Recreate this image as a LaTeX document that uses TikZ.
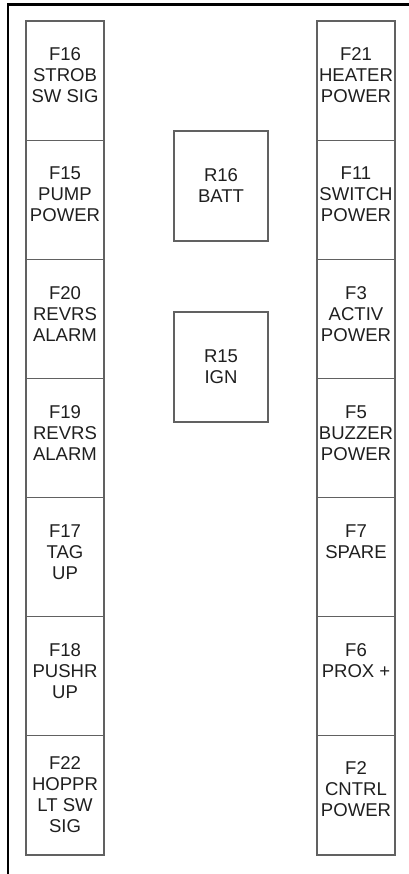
\documentclass[tikz,border=0pt]{standalone}
\usepackage{fontspec}
\setmainfont{Liberation Sans}
\begin{document}
\begin{tikzpicture}[x=0.75pt,y=-0.75pt,
  fuse/.style={draw=black!62, line width=0.8pt, minimum width=58.5pt, minimum height=89.36pt, inner sep=0pt},
  relay/.style={draw=black!62, line width=1.3pt, minimum width=70.5pt, minimum height=82.5pt, inner sep=0pt},
  lbl/.style={align=center, inner sep=0pt, text=black!88, font=\fontsize{13.9}{15.75}\selectfont}]
\useasboundingbox (0,0) rectangle (409,874);
\coordinate (fb) at (8,874);
\coordinate (fc) at (8,4.5);
\coordinate (fr) at (409,4.5);
\draw[line width=2.2pt] (fb) -- (fc) -- (fr);
\foreach \i/\n/\t/\d in {0/F16/{F16\\STROB\\SW SIG}/5,
                         1/F15/{F15\\PUMP\\POWER}/5,
                         2/F20/{F20\\REVRS\\ALARM}/5,
                         3/F19/{F19\\REVRS\\ALARM}/5,
                         4/F17/{F17\\TAG\\UP}/5,
                         5/F18/{F18\\PUSHR\\UP}/5,
                         6/F22/{F22\\HOPPR\\LT SW\\SIG}/1}{
  \node[fuse] (\n) at (65,{21+119.14*(\i+0.5)}) {};
  \node[lbl] (\n t) at ([yshift=\d*0.75pt]\n.center) {\t};
}
\foreach \i/\n/\t/\d in {0/F21/{F21\\HEATER\\POWER}/5,
                         1/F11/{F11\\SWITCH\\POWER}/5,
                         2/F3/{F3\\ACTIV\\POWER}/5,
                         3/F5/{F5\\BUZZER\\POWER}/5,
                         4/F7/{F7\\SPARE}/15,
                         5/F6/{F6\\PROX +}/16,
                         6/F2/{F2\\CNTRL\\POWER}/6}{
  \node[fuse] (\n) at (356,{21+119.14*(\i+0.5)}) {};
  \node[lbl] (\n t) at ([yshift=\d*0.75pt]\n.center) {\t};
}
\node[relay] (R16) at (221,186) {};
\node[lbl] (R16t) at (R16.center) {R16\\BATT};
\node[relay] (R15) at (221,367) {};
\node[lbl] (R15t) at (R15.center) {R15\\IGN};
\end{tikzpicture}
\end{document}
